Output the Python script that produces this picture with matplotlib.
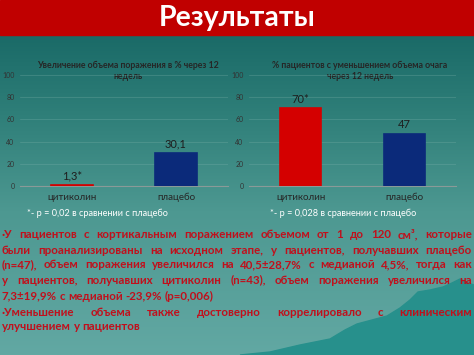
import numpy as np
import matplotlib.pyplot as plt
from matplotlib.colors import LinearSegmentedColormap
from matplotlib.patches import Rectangle, Polygon

# ── Data ──────────────────────────────────────────────
categories = ['цитиколин', 'плацебо']
volume_increase = [1.3, 30.1]
volume_labels = ['1,3*', '30,1']
pct_decrease = [70, 47]
pct_labels = ['70*', '47']
yticks = [0, 20, 40, 60, 80, 100]

title_left = 'Увеличение объема поражения в % через 12\nнедель'
title_right = '% пациентов с уменьшением объема очага\nчерез 12 недель'
note_left = '*- p = 0,02 в сравнении с плацебо'
note_right = '*- p = 0,028 в сравнении с плацебо'

body_lines = [
    ('·У пациентов с кортикальным поражением объемом от 1 до 120 см³, которые', True),
    ('были проанализированы на исходном этапе, у пациентов, получавших плацебо', True),
    ('(n=47), объем поражения увеличился на 40,5±28,7% с медианой 4,5%, тогда как', True),
    ('у пациентов, получавших цитиколин (n=43), объем поражения увеличился на', True),
    ('7,3±19,9% с медианой -23,9% (p=0,006)', False),
    ('·Уменьшение объема также достоверно коррелировало с клиническим', True),
    ('улучшением у пациентов', False),
]

BAR_COLORS = ['#d40000', '#0b2a7a']
RED_TEXT = '#c0101c'
FONT = ['Lato', 'DejaVu Sans']
plt.rcParams['font.family'] = FONT

W, H = 474, 355
fig = plt.figure(figsize=(W / 100, H / 100), dpi=100)

# ── Background (pixel coordinates) ────────────────────
bg = fig.add_axes([0, 0, 1, 1])
bg.set_xlim(0, W)
bg.set_ylim(H, 0)
bg.axis('off')
cmap = LinearSegmentedColormap.from_list(
    'bg', [(0, '#1a6a67'), (0.25, '#2f7f79'), (0.55, '#4d9891'), (1, '#62a8a3')])
grad = np.linspace(0, 1, 256).reshape(-1, 1)
bg.imshow(grad, cmap=cmap, extent=[0, W, H, 35], aspect='auto', zorder=0)
bg.add_patch(Rectangle((0, 0), W, 35, color='#c00000', zorder=1))
mountain = [(240, 355), (270, 352), (300, 345), (330, 339), (345, 330), (357, 324),
            (372, 320), (387, 316), (400, 308), (410, 300), (418, 292), (430, 290),
            (443, 287), (452, 283), (460, 279), (468, 283), (474, 285), (474, 355)]
bg.add_patch(Polygon(mountain, closed=True, color='#27908c', zorder=1))

bg.text(W / 2, 18, 'Результаты', color='white', fontsize=20.5, fontweight='bold',
        ha='center', va='center', zorder=2)


# ── Charts ────────────────────────────────────────────
def bar_chart(rect, values, labels, title, title_xy):
    ax = fig.add_axes(rect)
    ax.set_facecolor('none')
    x = np.arange(len(values))
    ax.bar(x, values, width=0.4, color=BAR_COLORS, edgecolor=BAR_COLORS,
           linewidth=1.2, zorder=3)
    for xi, v, lab in zip(x, values, labels):
        ax.text(xi, v + 3, lab, ha='center', va='bottom', fontsize=8,
                color='#1e1e1e')
    ax.set_ylim(0, 100)
    ax.set_xlim(-0.5, 1.5)
    ax.set_yticks(yticks)
    ax.set_xticks(x)
    ax.set_xticklabels(categories)
    ax.tick_params(axis='y', length=0, labelsize=5, labelcolor='#333333', pad=4)
    ax.tick_params(axis='x', length=0, labelsize=7, labelcolor='#262626', pad=5)
    ax.grid(axis='y', color='#7fb3ad', linewidth=0.5, alpha=0.4, zorder=0)
    for s in ['top', 'right', 'left']:
        ax.spines[s].set_visible(False)
    ax.spines['bottom'].set_color('#8a9a98')
    ax.spines['bottom'].set_linewidth(0.8)
    ax.spines['bottom'].set_zorder(2)
    bg.text(title_xy[0], title_xy[1], title, ha='center', va='center',
            fontsize=6.3, fontweight='bold', color='#262626', linespacing=1.25)
    return ax


def fig_rect(x0, x1, y_top, y_bottom):
    return [x0 / W, 1 - y_bottom / H, (x1 - x0) / W, (y_bottom - y_top) / H]


bar_chart(fig_rect(20, 228, 75, 186), volume_increase, volume_labels,
          title_left, (128, 71))
bar_chart(fig_rect(249, 456, 75, 186), pct_decrease, pct_labels,
          title_right, (360, 71))

bg.text(27, 213, note_left, fontsize=6.6, color='white', va='center', ha='left')
bg.text(270, 213, note_right, fontsize=6.6, color='white', va='center', ha='left')

# ── Body text (justified) ─────────────────────────────
fig.canvas.draw()
renderer = fig.canvas.get_renderer()
left, right = 2, 472
line_y = [235, 250, 265, 280, 296, 312, 327]
BODY_SIZE = 8.3
px_per_data = bg.transData.transform((1, 0))[0] - bg.transData.transform((0, 0))[0]


def text_width(s):
    t = bg.text(0, 0, s, fontsize=BODY_SIZE, fontweight='bold')
    w = t.get_window_extent(renderer).width / px_per_data
    t.remove()
    return w


space_w = text_width('a a') - text_width('aa')
for (line, justify), y in zip(body_lines, line_y):
    words = line.split(' ')
    texts = [bg.text(0, y, w, fontsize=BODY_SIZE, fontweight='bold', color=RED_TEXT,
                     va='center', ha='left', zorder=3) for w in words]
    widths = [t.get_window_extent(renderer).width / px_per_data for t in texts]
    if justify and len(words) > 1:
        gap = (right - left - sum(widths)) / (len(words) - 1)
    else:
        gap = space_w
    xpos = left
    for t, w in zip(texts, widths):
        t.set_x(xpos)
        xpos += w + gap

fig.savefig('out.png', dpi=100)
